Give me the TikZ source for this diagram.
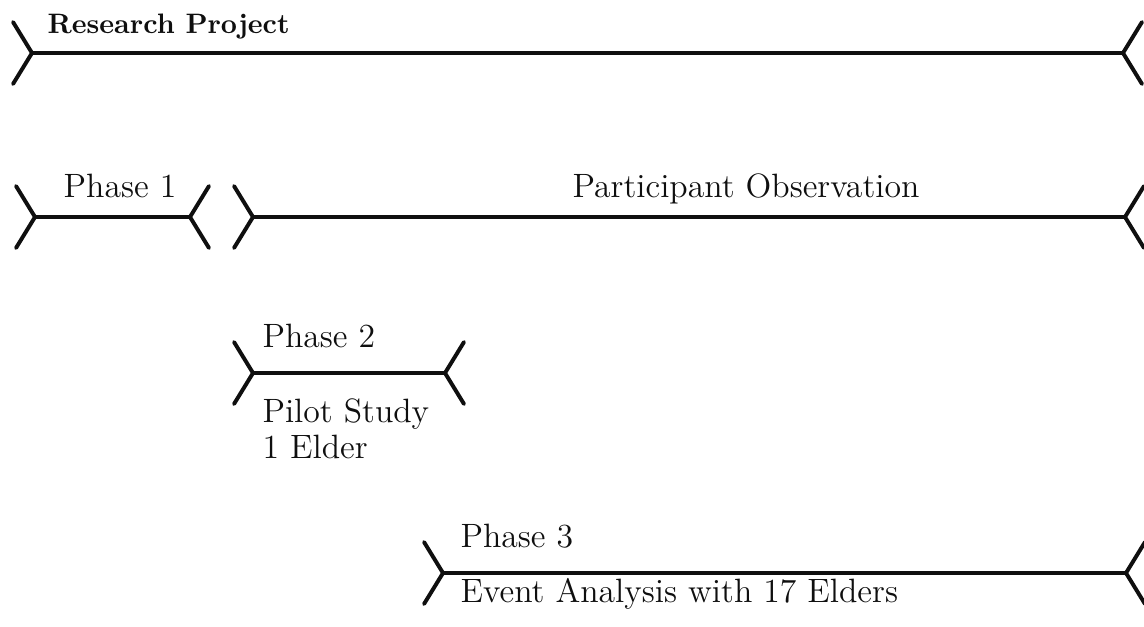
\documentclass[tikz,border=0pt]{standalone}
\usepackage{tikz}
\usetikzlibrary{calc}
\definecolor{ink}{RGB}{15,15,15}

\tikzset{
  spanline/.style={draw=ink, line width=1.1pt},
  spanarm/.style={draw=ink, line width=1.4pt, line cap=round, line join=round},
  spanlabel/.style={font=\fontsize{12}{12.8}\selectfont, text=ink, inner sep=0pt},
}
% bracketed span between two named end points
\newcommand{\spanbar}[2]{%
  \draw[spanline] (#1) -- (#2);
  \draw[spanarm] ([shift={(-19,-31)}]#1) -- (#1) -- ([shift={(-19,31)}]#1);
  \draw[spanarm] ([shift={(19,-31)}]#2) -- (#2) -- ([shift={(19,31)}]#2);
}

\begin{document}
\begin{tikzpicture}[x=0.0125cm, y=-0.0125cm]
    \useasboundingbox (0,0) rectangle (1144,626);
    \clip (0,0) rectangle (1144,626);

    % span end points
    \coordinate (rp-l)  at (32,53);
    \coordinate (rp-r)  at (1123,53);
    \coordinate (ph1-l) at (35,217);
    \coordinate (ph1-r) at (190,217);
    \coordinate (po-l)  at (253,217);
    \coordinate (po-r)  at (1125,217);
    \coordinate (ph2-l) at (253,373);
    \coordinate (ph2-r) at (445,373);
    \coordinate (ph3-l) at (443,573);
    \coordinate (ph3-r) at (1126,573);

    \spanbar{rp-l}{rp-r}
    \spanbar{ph1-l}{ph1-r}
    \spanbar{po-l}{po-r}
    \spanbar{ph2-l}{ph2-r}
    \spanbar{ph3-l}{ph3-r}

    % labels
    \node[spanlabel, font=\fontsize{10}{12}\selectfont\bfseries, anchor=base west]
      (project) at (47,33) {Research Project};
    \node[spanlabel, anchor=base] (phase1) at (120,197) {Phase 1};
    \node[spanlabel, anchor=base] (observe) at (746,197) {Participant Observation};
    \node[spanlabel, anchor=base west] (phase2) at (262,347) {Phase 2};
    \node[spanlabel, anchor=north west, align=left] (pilot) at (262,398)
      {Pilot Study\\1 Elder};
    \node[spanlabel, anchor=base west] (phase3) at (460,547) {Phase 3};
    \node[spanlabel, anchor=base west] (events) at (460,602)
      {Event Analysis with 17 Elders};
\end{tikzpicture}
\end{document}
